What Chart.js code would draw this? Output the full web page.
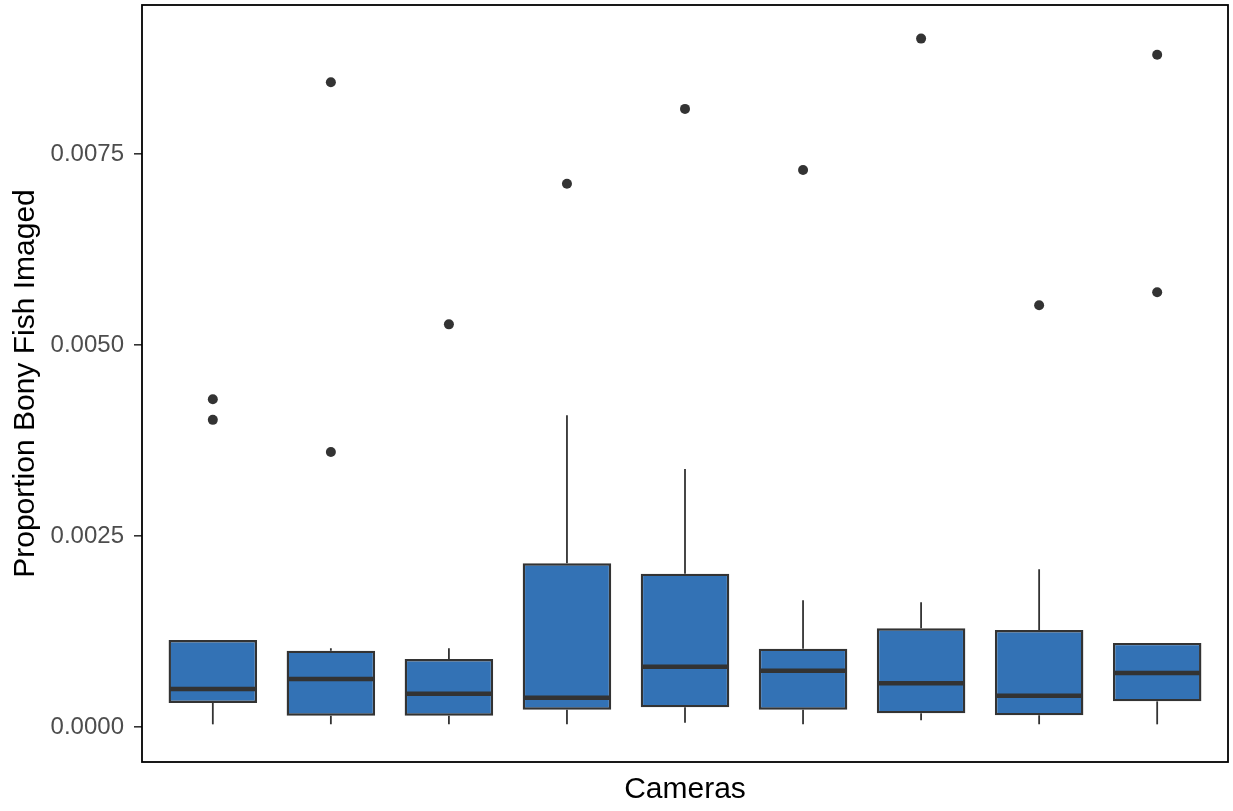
<!DOCTYPE html>
<html>
<head>
<meta charset="utf-8">
<script src="https://cdn.jsdelivr.net/npm/chart.js@4/dist/chart.umd.min.js"></script>
<style>
    html, body { margin: 0; padding: 0; background: #ffffff; }
    #wrap { width: 1233px; height: 811px; }
</style>
</head>
<body>
<div id="wrap"><canvas id="grafica" width="1233" height="811"></canvas></div>
<script>
"use strict";

/**
 * Datos (proporcion por camara)
 */
const cameras = ["1", "2", "3", "4", "5", "6", "7", "8", "9"];
const positions = [1, 2, 3, 4, 5, 6, 7, 8, 9];

const whiskerLow = [0.000035, 0.000035, 0.000035, 0.000035, 0.000056, 0.000035, 0.000088, 0.000035, 0.000035];
const q1 = [0.000314, 0.000148, 0.000148, 0.000227, 0.000258, 0.000227, 0.000179, 0.000153, 0.000336];
const medians = [0.000497, 0.000628, 0.000436, 0.000384, 0.000789, 0.000737, 0.000572, 0.000410, 0.000707];
const q3 = [0.001139, 0.000999, 0.000890, 0.002142, 0.002007, 0.001025, 0.001292, 0.001270, 0.001100];
const whiskerHigh = [0.001139, 0.001030, 0.001030, 0.004080, 0.003377, 0.001658, 0.001632, 0.002064, 0.001100];

const outliers = [
    [0.00429, 0.00402],
    [0.00844, 0.00360],
    [0.00527],
    [0.00711],
    [0.00809],
    [0.00729],
    [0.00901],
    [0.00552],
    [0.00880, 0.00569],
];

const yTicks = [0, 0.0025, 0.005, 0.0075];
const yTickLabels = ["0.0000", "0.0025", "0.0050", "0.0075"];

const boxColor = "#3372B5";
const darkColor = "#333333";

document.addEventListener("DOMContentLoaded", () => {
    const idchar = document.querySelector("#grafica");

    const boxes = positions.map((x, i) => ({ x: x, y: [q1[i], q3[i]] }));

    const points = [];
    outliers.forEach((list, i) => {
        list.forEach((v) => points.push({ x: positions[i], y: v }));
    });

    /**
     * Bigotes, medianas y marco del panel
     */
    const boxplotExtras = {
        id: "boxplotExtras",
        afterDatasetsDraw(chart) {
            const { ctx, chartArea, scales } = chart;
            const y = scales.y;
            const meta = chart.getDatasetMeta(0);

            ctx.save();
            ctx.strokeStyle = darkColor;
            ctx.lineCap = "butt";

            meta.data.forEach((bar, i) => {
                const half = bar.width / 2;

                ctx.lineWidth = 1.8;
                ctx.beginPath();
                ctx.moveTo(bar.x, y.getPixelForValue(q3[i]));
                ctx.lineTo(bar.x, y.getPixelForValue(whiskerHigh[i]));
                ctx.moveTo(bar.x, y.getPixelForValue(q1[i]));
                ctx.lineTo(bar.x, y.getPixelForValue(whiskerLow[i]));
                ctx.stroke();

                ctx.lineWidth = 4.5;
                ctx.beginPath();
                const ym = y.getPixelForValue(medians[i]);
                ctx.moveTo(bar.x - half + 1, ym);
                ctx.lineTo(bar.x + half - 1, ym);
                ctx.stroke();
            });

            ctx.strokeStyle = "#000000";
            ctx.lineWidth = 1.8;
            ctx.strokeRect(
                chartArea.left,
                chartArea.top,
                chartArea.right - chartArea.left,
                chartArea.bottom - chartArea.top
            );
            ctx.restore();
        },
    };

    new Chart(idchar, {
        data: {
            labels: cameras,
            datasets: [
                {
                    type: "bar",
                    label: "Cajas",
                    data: boxes,
                    backgroundColor: boxColor,
                    borderColor: darkColor,
                    borderWidth: 2.4,
                    borderSkipped: false,
                    categoryPercentage: 1,
                    barPercentage: 0.75,
                    order: 2,
                },
                {
                    type: "scatter",
                    label: "Atipicos",
                    data: points,
                    backgroundColor: darkColor,
                    borderColor: darkColor,
                    pointRadius: 5,
                    pointBorderWidth: 0,
                    order: 1,
                },
            ],
        },
        options: {
            responsive: false,
            animation: false,
            layout: {
                padding: { top: 5, right: 5, left: 0, bottom: 0 },
            },
            plugins: {
                legend: { display: false },
                tooltip: { enabled: false },
            },
            scales: {
                x: {
                    type: "linear",
                    min: 0.4,
                    max: 9.6,
                    offset: false,
                    grid: { display: false },
                    border: { display: false },
                    afterBuildTicks: (scale) => {
                        scale.ticks = positions.map((v) => ({ value: v }));
                    },
                    ticks: { display: false },
                    title: {
                        display: true,
                        text: "Cameras",
                        color: "#000000",
                        font: { family: "'Liberation Sans', Arial, sans-serif", size: 30 },
                        padding: { top: 0, bottom: 3 },
                    },
                    afterFit: (scale) => {
                        scale.height = 49;
                        scale.paddingLeft = 0;
                        scale.paddingRight = 0;
                    },
                },
                y: {
                    type: "linear",
                    min: -0.000458,
                    max: 0.00945,
                    grid: {
                        display: true,
                        drawOnChartArea: false,
                        drawTicks: true,
                        tickLength: 8,
                        color: darkColor,
                        lineWidth: 1.6,
                    },
                    border: { display: false },
                    afterBuildTicks: (scale) => {
                        scale.ticks = yTicks.map((v) => ({ value: v }));
                    },
                    ticks: {
                        color: "#4D4D4D",
                        padding: 10,
                        font: { family: "'Liberation Sans', Arial, sans-serif", size: 24 },
                        callback: (value, index) => yTickLabels[index],
                    },
                    title: {
                        display: true,
                        text: "Proportion Bony Fish Imaged",
                        color: "#000000",
                        font: { family: "'Liberation Sans', Arial, sans-serif", size: 30 },
                        padding: { top: 8, bottom: 0 },
                    },
                    afterFit: (scale) => {
                        scale.width = 142;
                        scale.paddingTop = 0;
                        scale.paddingBottom = 0;
                    },
                },
            },
        },
        plugins: [boxplotExtras],
    });
});
</script>
</body>
</html>
